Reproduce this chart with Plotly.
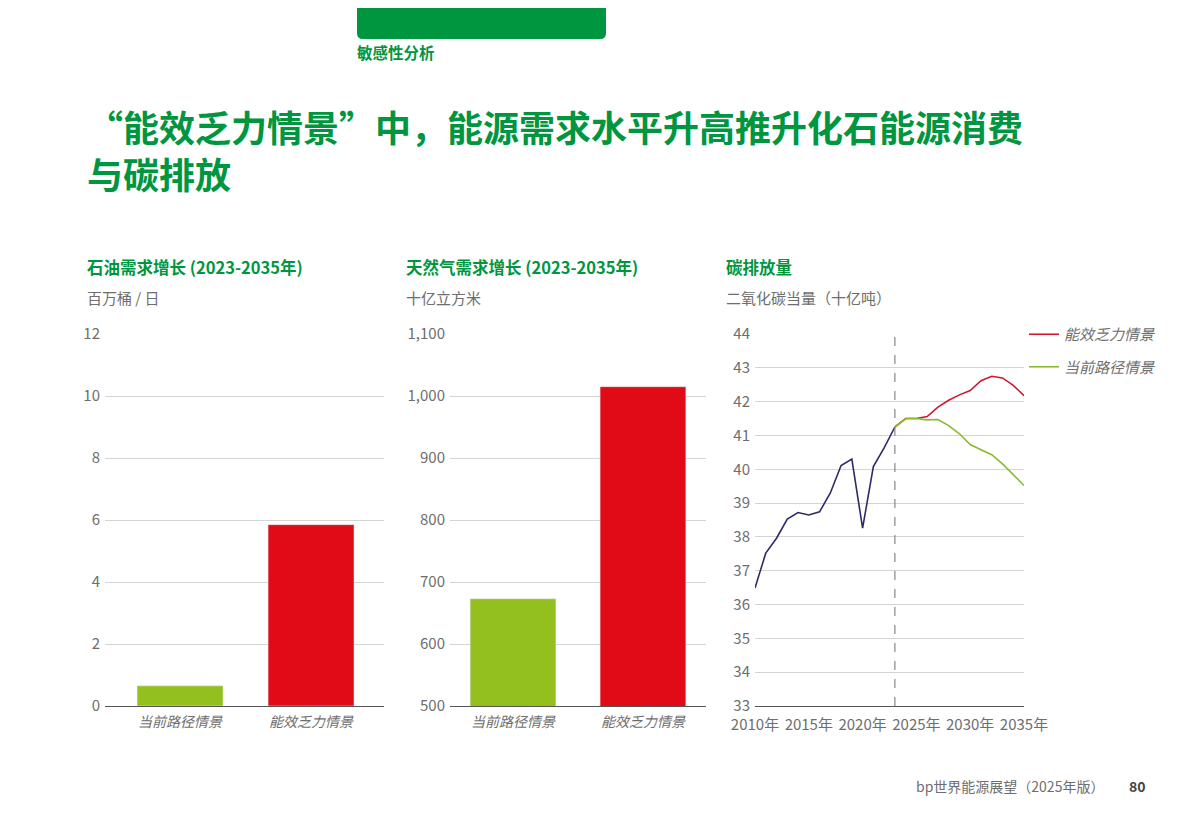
import plotly.graph_objects as go

# --- data ---
scenarios = ["当前路径情景", "能效乏力情景"]
oil_growth = [0.65, 5.85]          # 百万桶/日
gas_demand = [673, 1015]           # 十亿立方米

hist_years = list(range(2010, 2024))
hist_co2 = [36.49, 37.52, 37.96, 38.53, 38.72, 38.65, 38.74, 39.30,
            40.11, 40.30, 38.26, 40.08, 40.63, 41.25]

proj_years = list(range(2023, 2036))
co2_current = [41.25, 41.50, 41.50, 41.46, 41.47, 41.29, 41.05, 40.73,
               40.58, 40.43, 40.16, 39.85, 39.52]
co2_efficiency = [41.25, 41.50, 41.50, 41.56, 41.84, 42.04, 42.20, 42.33,
                  42.62, 42.75, 42.70, 42.48, 42.18]

year_ticks = [2010, 2015, 2020, 2025, 2030, 2035]
year_labels = [f"{y}年" for y in year_ticks]

GREEN = "#00963f"
BAR_GREEN = "#93c01f"
BAR_RED = "#e10a17"
LINE_RED = "#d2172f"
LINE_GREEN = "#8db92e"
NAVY = "#2d2a6b"
GREY = "#6e6e6e"
GRID = "#d4d4d4"
FONT = "Noto Sans CJK SC, Noto Sans, sans-serif"

W, H = 1190, 839
PAGE_OFFSET = 8  # the page body margin pushes the figure 8px right and down


def py(px_y):
    return 1 - (px_y - PAGE_OFFSET) / H


def px_(px_x):
    return (px_x - PAGE_OFFSET) / W


fig = go.Figure()

fig.add_trace(go.Bar(x=scenarios, y=oil_growth, marker_color=[BAR_GREEN, BAR_RED],
                     width=0.656, xaxis="x", yaxis="y", showlegend=False))
fig.add_trace(go.Bar(x=scenarios, y=gas_demand, marker_color=[BAR_GREEN, BAR_RED],
                     width=0.66, xaxis="x2", yaxis="y2", showlegend=False))

fig.add_trace(go.Scatter(x=hist_years, y=hist_co2, mode="lines",
                         line=dict(color=NAVY, width=1.6), xaxis="x3", yaxis="y3",
                         showlegend=False))
fig.add_trace(go.Scatter(x=proj_years, y=co2_efficiency, mode="lines", name="能效乏力情景",
                         legendgroup="a", line=dict(color=LINE_RED, width=1.6),
                         xaxis="x3", yaxis="y3"))
fig.add_trace(go.Scatter(x=proj_years, y=co2_current, mode="lines", name="当前路径情景",
                         legendgroup="b", line=dict(color=LINE_GREEN, width=1.6),
                         xaxis="x3", yaxis="y3"))

y_dom = [py(706), py(334)]
tick_font = dict(family=FONT, size=15, color=GREY)
cat_font = dict(family=FONT, size=14, color=GREY, style="italic")

common_y = dict(showgrid=True, gridcolor=GRID, gridwidth=1, zeroline=False,
                tickfont=tick_font, ticks="", showline=False, automargin=False,
                ticklabelstandoff=4)
common_x = dict(showline=True, linecolor="#555", linewidth=1.2, ticks="",
                showgrid=False, zeroline=False, automargin=False)

fig.update_layout(
    width=W, height=H,
    margin=dict(l=0, r=0, t=0, b=0, autoexpand=False),
    paper_bgcolor="white", plot_bgcolor="white",
    font=dict(family=FONT, color=GREY),
    xaxis=dict(domain=[px_(105), px_(384)], anchor="y", range=[-0.573, 1.557],
               tickfont=cat_font, ticklabelstandoff=3, **common_x),
    yaxis=dict(domain=y_dom, anchor="x", range=[0, 12], dtick=2, **common_y),
    xaxis2=dict(domain=[px_(450), px_(706)], anchor="y2", range=[-0.485, 1.485],
                tickfont=cat_font, ticklabelstandoff=3, **common_x),
    yaxis2=dict(domain=y_dom, anchor="x2", range=[500, 1100], dtick=100,
                tickformat=",", **common_y),
    xaxis3=dict(domain=[px_(755), px_(1024)], anchor="y3", range=[2010, 2035],
                tickvals=year_ticks, ticktext=year_labels, tickfont=tick_font,
                ticklabelstandoff=5, **common_x),
    yaxis3=dict(domain=y_dom, anchor="x3", range=[33, 44], dtick=1, **common_y),
    legend=dict(x=px_(1024), y=py(318), xanchor="left", yanchor="top",
                font=dict(family=FONT, size=15, color=GREY, style="italic"),
                traceorder="grouped", tracegroupgap=10, itemwidth=30,
                bgcolor="rgba(0,0,0,0)"),
)

# dashed marker at the last historical year
fig.add_shape(type="line", xref="x3", yref="y3", x0=2023, x1=2023, y0=33, y1=44,
              line=dict(color="#888", width=1.2, dash="dash"))

# green tab at the top
fig.add_shape(type="path", xref="paper", yref="paper", line=dict(width=0),
              fillcolor=GREEN,
              path=(f"M {px_(357)} {py(0)} L {px_(606)} {py(0)} L {px_(606)} {py(33)} "
                    f"Q {px_(606)} {py(39)} {px_(600)} {py(39)} L {px_(363)} {py(39)} "
                    f"Q {px_(357)} {py(39)} {px_(357)} {py(33)} Z"))


def note(text, x, y, size, color, bold=False, xanchor="left"):
    fig.add_annotation(text=f"<b>{text}</b>" if bold else text, x=px_(x), y=py(y),
                       xref="paper", yref="paper", xanchor=xanchor, yanchor="middle",
                       align="left", showarrow=False,
                       font=dict(family=FONT, size=size, color=color))


note("敏感性分析", 355, 52, 15.5, GREEN, bold=True)
note("“能效乏力情景”中，能源需求水平升高推升化石能源消费<br>与碳排放", 85, 150, 36,
     GREEN, bold=True)

note("石油需求增长 (2023-2035年)", 85, 267, 16.5, GREEN, bold=True)
note("天然气需求增长 (2023-2035年)", 404, 267, 16.5, GREEN, bold=True)
note("碳排放量", 724, 267, 16.5, GREEN, bold=True)

note("百万桶 / 日", 85, 298, 15, GREY)
note("十亿立方米", 404, 298, 15, GREY)
note("二氧化碳当量（十亿吨）", 724, 298, 15, GREY)

note("bp世界能源展望（2025年版）", 914, 786, 14, GREY)
note("80", 1148, 786, 14, "#444", bold=True, xanchor="right")

fig.write_html("out.html")
